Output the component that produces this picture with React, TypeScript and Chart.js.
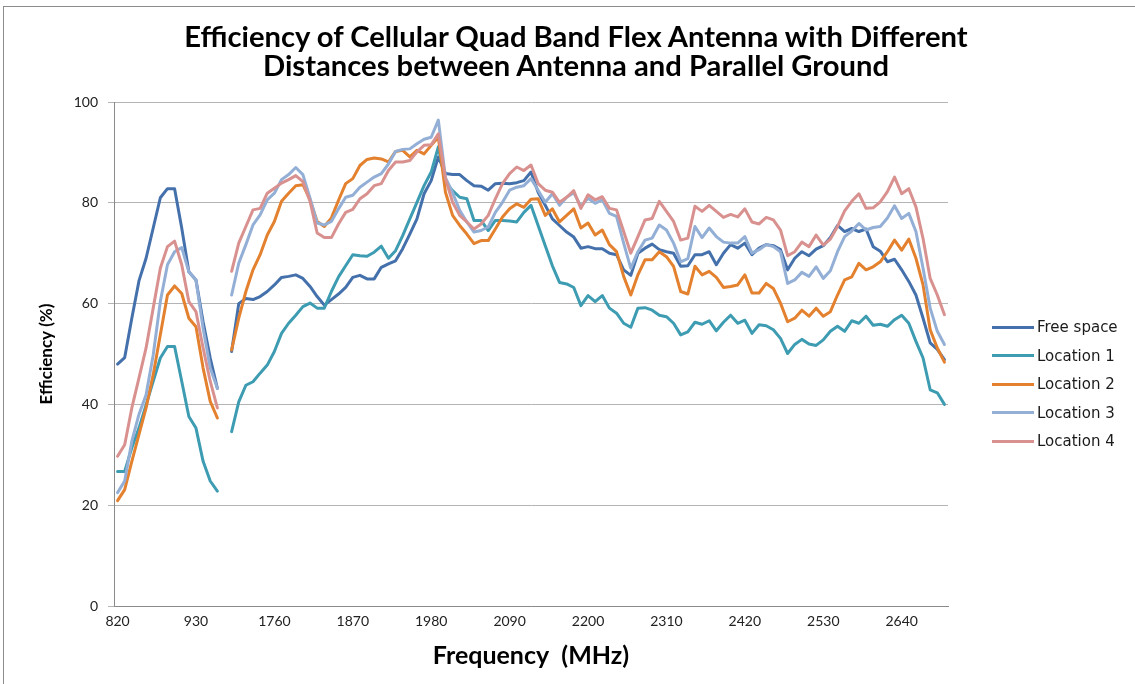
import React, { useEffect, useRef } from "react";
import { Chart, registerables } from "chart.js";

Chart.register(...registerables);

// Category axis: low band (MHz), a blank gap category, high band (MHz)
const lowFreqs = [820, 830, 840, 850, 860, 870, 880, 890, 900, 910, 920, 930, 940, 950, 960];
const highFreqs = [
  1700, 1710, 1720, 1730, 1740, 1750, 1760, 1770, 1780, 1790,
  1800, 1810, 1820, 1830, 1840, 1850, 1860, 1870, 1880, 1890,
  1900, 1910, 1920, 1930, 1940, 1950, 1960, 1970, 1980, 1990,
  2000, 2010, 2020, 2030, 2040, 2050, 2060, 2070, 2080, 2090,
  2100, 2110, 2120, 2130, 2140, 2150, 2160, 2170, 2180, 2190,
  2200, 2210, 2220, 2230, 2240, 2250, 2260, 2270, 2280, 2290,
  2300, 2310, 2320, 2330, 2340, 2350, 2360, 2370, 2380, 2390,
  2400, 2410, 2420, 2430, 2440, 2450, 2460, 2470, 2480, 2490,
  2500, 2510, 2520, 2530, 2540, 2550, 2560, 2570, 2580, 2590,
  2600, 2610, 2620, 2630, 2640, 2650, 2660, 2670, 2680, 2690,
  2700,
];
const tickLabels = ["820", "930", "1760", "1870", "1980", "2090", "2200", "2310", "2420", "2530", "2640"];
const yTicks = [0, 20, 40, 60, 80, 100];

const seriesNames = ["Free space", "Location 1", "Location 2", "Location 3", "Location 4"];
const seriesColors = ["#4470AC", "#3D9CB2", "#E4812E", "#93AFD6", "#D8918F"];

const freeSpaceLow = [48.0, 49.3, 57.1, 64.5, 69.0, 75.0, 81.0, 82.8, 82.8, 75.0, 66.3, 64.7, 56.4, 49.2, 43.2];
const location1Low = [26.7, 26.7, 31.4, 35.3, 39.9, 44.6, 49.2, 51.5, 51.5, 44.6, 37.6, 35.3, 28.7, 24.8, 22.8];
const location2Low = [20.9, 23.1, 28.7, 34.0, 39.3, 45.9, 53.8, 61.7, 63.5, 62.0, 57.1, 55.4, 47.2, 40.6, 37.3];
const location3Low = [22.5, 24.8, 32.7, 38.0, 41.9, 49.8, 60.4, 67.7, 70.3, 71.1, 66.3, 64.7, 55.1, 47.2, 43.2];
const location4Low = [29.7, 32.0, 39.3, 45.2, 51.2, 59.1, 67.0, 71.3, 72.4, 67.7, 60.4, 58.4, 51.2, 44.6, 39.3];

const freeSpaceHigh = [
  50.5, 60.0, 61.0, 60.8, 61.4, 62.4, 63.7, 65.2, 65.4, 65.7,
  65.0, 63.4, 61.4, 59.7, 60.8, 61.9, 63.2, 65.2, 65.6, 64.9,
  64.9, 67.2, 67.9, 68.5, 70.9, 73.8, 76.8, 81.8, 84.4, 89.1,
  85.8, 85.6, 85.6, 84.4, 83.4, 83.3, 82.5, 83.8, 83.9, 83.8,
  84.0, 84.4, 86.1, 82.1, 79.5, 76.8, 75.5, 74.2, 73.2, 71.0,
  71.3, 70.9, 70.9, 70.0, 69.7, 66.7, 65.6, 70.0, 71.0, 71.8,
  70.7, 70.3, 70.0, 67.4, 67.5, 69.7, 69.7, 70.3, 67.7, 70.0,
  71.7, 71.0, 72.0, 69.7, 71.0, 71.7, 71.5, 70.7, 66.7, 69.0,
  70.3, 69.5, 70.8, 71.5, 73.1, 75.5, 74.3, 74.9, 74.3, 74.8,
  71.3, 70.4, 68.3, 68.8, 66.7, 64.4, 61.7, 57.1, 52.2, 50.9,
  48.9,
];
const location1High = [
  34.6, 40.5, 43.8, 44.5, 46.2, 47.8, 50.5, 54.1, 56.1, 57.7,
  59.4, 60.1, 59.1, 59.1, 62.4, 65.3, 67.5, 69.7, 69.5, 69.4,
  70.2, 71.4, 69.0, 70.5, 73.5, 76.8, 80.1, 83.4, 86.1, 91.1,
  84.1, 82.4, 81.1, 80.8, 76.5, 76.5, 74.5, 76.5, 76.5, 76.4,
  76.2, 78.1, 79.5, 75.5, 71.5, 67.5, 64.2, 63.9, 63.2, 59.6,
  61.6, 60.4, 61.6, 59.1, 58.1, 56.1, 55.3, 59.1, 59.2, 58.7,
  57.7, 57.4, 56.1, 53.8, 54.4, 56.3, 55.9, 56.6, 54.6, 56.3,
  57.7, 56.1, 56.7, 54.1, 55.8, 55.6, 54.8, 53.1, 50.1, 51.9,
  52.9, 52.0, 51.7, 52.8, 54.5, 55.5, 54.5, 56.6, 56.1, 57.5,
  55.7, 55.9, 55.5, 56.8, 57.7, 56.1, 52.5, 49.2, 42.9, 42.3,
  40.0,
];
const location2High = [
  50.8, 57.1, 62.4, 66.7, 69.7, 73.6, 76.3, 80.3, 81.9, 83.4,
  83.6, 80.6, 76.3, 75.3, 77.0, 80.5, 83.8, 84.8, 87.4, 88.6,
  88.9, 88.7, 88.1, 90.2, 90.4, 89.1, 90.4, 89.7, 91.4, 93.0,
  82.1, 77.5, 75.5, 73.8, 71.9, 72.5, 72.5, 74.8, 77.2, 78.8,
  79.8, 79.1, 80.7, 80.8, 77.5, 78.8, 76.2, 77.5, 78.8, 75.0,
  76.0, 73.6, 74.6, 71.7, 70.3, 65.4, 61.7, 65.7, 68.7, 68.7,
  70.3, 69.3, 67.4, 62.4, 61.9, 67.4, 65.7, 66.4, 65.2, 63.2,
  63.4, 63.7, 65.7, 62.1, 62.1, 64.0, 63.0, 60.1, 56.4, 57.1,
  58.7, 57.5, 59.1, 57.5, 58.4, 61.7, 64.7, 65.3, 68.0, 66.7,
  67.3, 68.3, 70.3, 72.6, 70.6, 72.8, 69.0, 63.7, 54.8, 51.2,
  48.4,
];
const location3High = [
  61.7, 68.0, 71.7, 75.6, 77.6, 80.6, 81.9, 84.6, 85.6, 87.0,
  85.6, 80.9, 76.0, 75.6, 76.3, 78.8, 81.1, 81.5, 83.1, 84.1,
  85.1, 85.8, 87.7, 90.2, 90.6, 90.7, 91.7, 92.6, 93.0, 96.4,
  85.0, 82.0, 78.5, 76.2, 74.2, 74.5, 75.2, 78.1, 80.1, 82.5,
  83.1, 83.4, 84.8, 82.5, 80.1, 81.8, 79.5, 81.1, 82.0, 79.3,
  80.9, 79.9, 80.6, 77.9, 77.3, 72.0, 67.0, 70.3, 72.6, 73.0,
  75.6, 74.6, 72.0, 68.3, 68.9, 75.3, 73.1, 75.0, 73.3, 72.2,
  72.0, 72.0, 73.3, 70.0, 70.7, 71.7, 71.3, 70.3, 64.0, 64.7,
  66.2, 65.4, 67.3, 65.0, 66.5, 70.3, 73.3, 74.4, 75.9, 74.6,
  75.1, 75.3, 77.0, 79.4, 76.9, 77.9, 74.3, 67.0, 59.1, 54.5,
  51.9,
];
const location4High = [
  66.4, 72.0, 75.3, 78.6, 78.9, 81.9, 82.9, 83.9, 84.6, 85.4,
  84.2, 80.3, 74.0, 73.1, 73.1, 75.8, 78.1, 78.7, 80.8, 81.8,
  83.4, 83.8, 86.4, 88.1, 88.1, 88.4, 90.1, 91.4, 91.5, 93.7,
  84.8, 80.1, 77.5, 76.2, 74.8, 75.8, 77.5, 80.8, 83.8, 85.8,
  87.1, 86.4, 87.5, 83.8, 82.5, 82.1, 80.1, 81.1, 82.4, 78.9,
  81.6, 80.6, 81.2, 78.9, 78.6, 74.3, 70.0, 73.3, 76.6, 76.9,
  80.3, 78.3, 76.3, 72.6, 73.0, 79.3, 78.3, 79.5, 78.3, 77.1,
  77.7, 77.2, 78.8, 76.2, 75.8, 77.1, 76.6, 74.6, 69.5, 70.3,
  72.2, 71.3, 73.6, 71.6, 72.8, 75.3, 78.4, 80.3, 81.8, 78.9,
  79.0, 80.2, 82.2, 85.1, 81.8, 82.8, 79.2, 72.9, 65.0, 61.7,
  57.8,
];

const lowSeries = [freeSpaceLow, location1Low, location2Low, location3Low, location4Low];
const highSeries = [freeSpaceHigh, location1High, location2High, location3High, location4High];

const TICK_FONT = "Lato, 'DejaVu Sans', sans-serif";

export default function App() {
  const canvasRef = useRef<HTMLCanvasElement | null>(null);

  useEffect(() => {
    const canvas = canvasRef.current;
    if (!canvas) return;
    const labels = [...lowFreqs.map(String), "", ...highFreqs.map(String)];
    const datasets = seriesNames.map((name, k) => ({
      label: name,
      data: [...lowSeries[k], null, ...highSeries[k]],
      borderColor: seriesColors[k],
      backgroundColor: seriesColors[k],
      borderWidth: 3,
      pointRadius: 0,
      tension: 0,
      spanGaps: false,
      fill: false,
      order: seriesNames.length - k,
      borderJoinStyle: "round" as const,
      borderCapStyle: "round" as const,
    }));

    const chart = new Chart(canvas, {
      type: "line",
      data: { labels, datasets },
      options: {
        responsive: false,
        animation: false,
        devicePixelRatio: 1,
        layout: { padding: { left: 0, top: 102, right: 187, bottom: 0 } },
        plugins: {
          legend: { display: false },
          title: { display: false },
          tooltip: { enabled: false },
        },
        scales: {
          x: {
            type: "category",
            offset: true,
            grid: { display: false, drawTicks: false },
            border: { display: true, color: "#8a8a8a", width: 1 },
            ticks: {
              autoSkip: false,
              maxRotation: 0,
              minRotation: 0,
              padding: 7,
              color: "#222",
              font: { family: TICK_FONT, size: 14 },
              callback: function (this: any, value: any) {
                const l = this.getLabelForValue(value);
                return tickLabels.includes(l) ? l : "";
              },
            },
            title: {
              display: true,
              text: "Frequency  (MHz)",
              color: "#000",
              font: { family: TICK_FONT, size: 25, weight: "bold" },
              padding: { top: 0, bottom: 13 },
            },
            afterFit: (s: any) => {
              s.height = 78;
            },
          },
          y: {
            min: 0,
            max: 100,
            afterBuildTicks: (s: any) => {
              s.ticks = yTicks.map((v) => ({ value: v }));
            },
            ticks: {
              padding: 10,
              color: "#222",
              font: { family: TICK_FONT, size: 14 },
            },
            grid: { color: "#b4b4b4", lineWidth: 1, drawTicks: true, tickLength: 6 },
            border: { display: true, color: "#8a8a8a", width: 1 },
            title: {
              display: true,
              text: "Efficiency (%)",
              color: "#000",
              font: { family: TICK_FONT, size: 17, weight: "bold" },
              padding: { top: 36.8, bottom: 0 },
            },
            afterFit: (s: any) => {
              s.width = 114;
            },
          },
        },
      },
    });
    return () => chart.destroy();
  }, []);

  const legendTop = [327, 355.5, 384, 412.5, 441];

  return (
    <div
      style={{
        position: "absolute",
        left: 0,
        top: 0,
        width: 1135,
        height: 684,
        background: "#fff",
        overflow: "hidden",
      }}
    >
      <div
        style={{
          position: "absolute",
          left: 3,
          top: 6,
          width: 1200,
          height: 700,
          borderTop: "1px solid #8c8c8c",
          borderLeft: "1px solid #8c8c8c",
        }}
      />
      <canvas
        ref={canvasRef}
        width={1135}
        height={684}
        style={{ position: "absolute", left: 0, top: 0, width: 1135, height: 684 }}
      />
      <div
        style={{
          position: "absolute",
          left: 0,
          top: 21,
          width: 1152,
          textAlign: "center",
          fontFamily: TICK_FONT,
          fontWeight: "bold",
          fontSize: 29.2,
          lineHeight: "29px",
          color: "#000",
        }}
      >
        Efficiency of Cellular Quad Band Flex Antenna with Different
        <br />
        Distances between Antenna and Parallel Ground
      </div>
      {seriesNames.map((name, k) => (
        <div
          key={name}
          style={{
            position: "absolute",
            left: 992,
            top: legendTop[k] - 10,
            height: 20,
            display: "flex",
            alignItems: "center",
            fontFamily: "'DejaVu Sans', sans-serif",
            fontSize: 15,
            color: "#1a1a1a",
            whiteSpace: "nowrap",
          }}
        >
          <span
            style={{
              display: "inline-block",
              width: 42,
              height: 3,
              background: seriesColors[k],
              marginRight: 3,
            }}
          />
          {name}
        </div>
      ))}
    </div>
  );
}
